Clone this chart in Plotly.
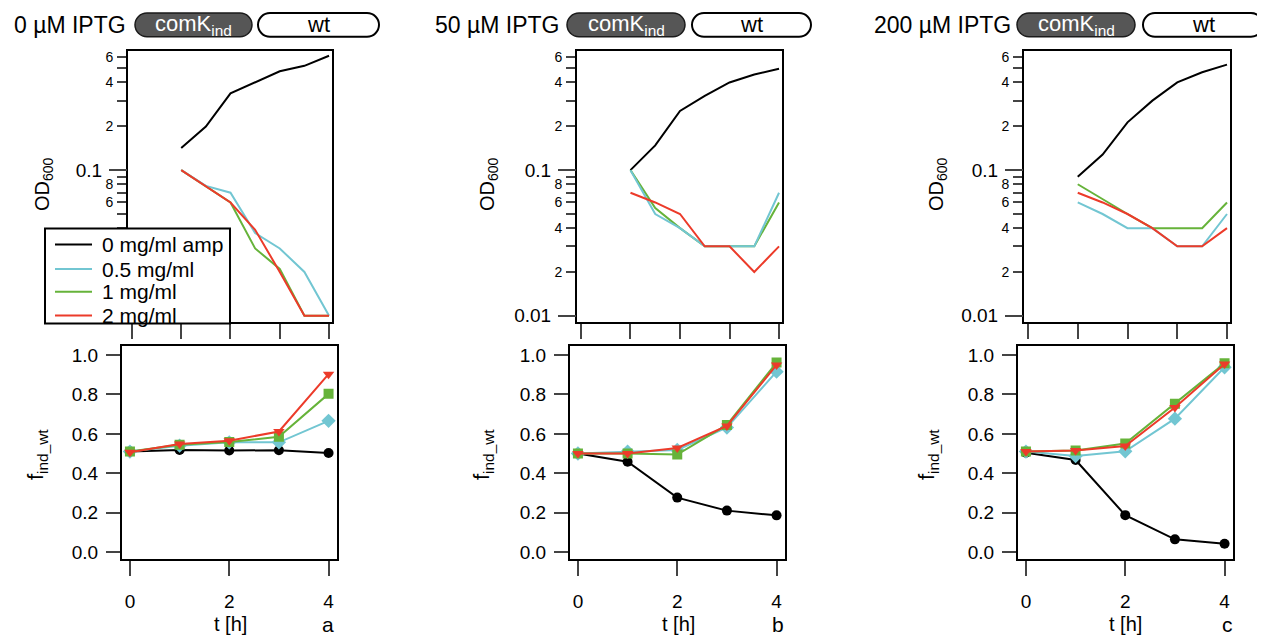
import plotly.graph_objects as go

# the page adds an 8px body margin, so the figure is 8px smaller than the window
OFF = 8
W, H = 1265 - OFF, 640 - OFF

# time points
t_od = [1, 1.5, 2, 2.5, 3, 3.5, 4]
t_f = [0, 1, 2, 3, 4]

# OD600, 0 uM IPTG
od0_amp0 = [0.142, 0.199, 0.337, 0.40, 0.477, 0.52, 0.61]
od0_amp05 = [0.1, 0.078, 0.07, 0.037, 0.029, 0.02, 0.01]
od0_amp1 = [0.1, 0.078, 0.06, 0.029, 0.021, 0.01, 0.01]
od0_amp2 = [0.1, 0.077, 0.06, 0.039, 0.02, 0.01, 0.01]
# OD600, 50 uM IPTG
od50_amp0 = [0.1, 0.148, 0.255, 0.323, 0.40, 0.453, 0.497]
od50_amp05 = [0.1, 0.05, 0.04, 0.03, 0.03, 0.03, 0.07]
od50_amp1 = [0.1, 0.055, 0.04, 0.03, 0.03, 0.03, 0.06]
od50_amp2 = [0.07, 0.06, 0.05, 0.03, 0.03, 0.02, 0.03]
# OD600, 200 uM IPTG
od200_amp0 = [0.09, 0.128, 0.213, 0.30, 0.40, 0.47, 0.53]
od200_amp05 = [0.06, 0.05, 0.04, 0.04, 0.03, 0.03, 0.05]
od200_amp1 = [0.08, 0.063, 0.05, 0.04, 0.04, 0.04, 0.06]
od200_amp2 = [0.07, 0.06, 0.05, 0.04, 0.03, 0.03, 0.04]

# f_ind_wt
f0_amp0 = [0.51, 0.518, 0.515, 0.517, 0.503]
f0_amp05 = [0.51, 0.54, 0.557, 0.557, 0.666]
f0_amp1 = [0.51, 0.545, 0.558, 0.585, 0.803]
f0_amp2 = [0.507, 0.548, 0.565, 0.612, 0.903]
f50_amp0 = [0.50, 0.458, 0.276, 0.21, 0.186]
f50_amp05 = [0.50, 0.51, 0.518, 0.632, 0.916]
f50_amp1 = [0.50, 0.50, 0.495, 0.645, 0.962]
f50_amp2 = [0.50, 0.50, 0.528, 0.64, 0.95]
f200_amp0 = [0.504, 0.467, 0.187, 0.064, 0.042]
f200_amp05 = [0.51, 0.487, 0.511, 0.677, 0.938]
f200_amp1 = [0.51, 0.515, 0.551, 0.753, 0.958]
f200_amp2 = [0.51, 0.515, 0.538, 0.734, 0.955]

series_names = ["0 mg/ml amp", "0.5 mg/ml", "1 mg/ml", "2 mg/ml"]
iptg_labels = ["0 µM IPTG", "50 µM IPTG", "200 µM IPTG"]
panel_letters = ["a", "b", "c"]

od_ticks = [0.01, 0.02, 0.03, 0.04, 0.05, 0.06, 0.07, 0.08, 0.09,
            0.1, 0.2, 0.3, 0.4, 0.5, 0.6]
od_ticktext = ["", "2", "", "4", "", "6", "", "8", "",
               "", "2", "", "4", "", "6"]
# in the first panel the legend box hides the low labels
od_ticktext_a = ["", "", "", "", "", "6", "", "8", "",
                 "", "2", "", "4", "", "6"]

colors = ["#000000", "#72C6D2", "#66B33A", "#EC3B2A"]
symbols = ["circle", "diamond", "square", "triangle-down"]
draw_order = [0, 2, 1, 3]

od_sets = [[od0_amp0, od0_amp05, od0_amp1, od0_amp2],
           [od50_amp0, od50_amp05, od50_amp1, od50_amp2],
           [od200_amp0, od200_amp05, od200_amp1, od200_amp2]]
f_sets = [[f0_amp0, f0_amp05, f0_amp1, f0_amp2],
          [f50_amp0, f50_amp05, f50_amp1, f50_amp2],
          [f200_amp0, f200_amp05, f200_amp1, f200_amp2]]

FONT = "Arial, Liberation Sans, sans-serif"


# window pixel -> paper coordinate
def px(x):
    return (x - OFF) / W


def py(y):
    return 1 - (y - OFF) / H


# frame boxes in window pixels
top_x = [(128, 332), (577, 782), (1024, 1230)]
bot_x = [(122, 337), (570, 785), (1018, 1233)]
top_y = (49, 323)
bot_y = (348, 563)

fig = go.Figure()
layout = dict(width=W, height=H, margin=dict(l=0, r=0, t=0, b=0),
              paper_bgcolor="white", plot_bgcolor="white",
              font=dict(family=FONT, color="black"),
              showlegend=False)

for p in range(3):
    xt, yt = 2 * p + 1, 2 * p + 1
    xb, yb = 2 * p + 2, 2 * p + 2
    # OD traces (top)
    for k in draw_order:
        fig.add_trace(go.Scatter(
            x=t_od, y=od_sets[p][k], mode="lines", name=series_names[k],
            line=dict(color=colors[k], width=2),
            xaxis="x%d" % xt, yaxis="y%d" % yt))
    # f_ind_wt traces (bottom)
    for k in [0, 1, 2, 3]:
        fig.add_trace(go.Scatter(
            x=t_f, y=f_sets[p][k], mode="lines+markers", name=series_names[k],
            line=dict(color=colors[k], width=2),
            marker=dict(symbol=symbols[k], size=10 if k != 1 else 11,
                        color=colors[k]),
            xaxis="x%d" % xb, yaxis="y%d" % yb))

    layout["xaxis%d" % xt] = dict(
        domain=[px(top_x[p][0]), px(top_x[p][1])], anchor="y%d" % yt,
        range=[-0.08, 4.06], tickvals=[0, 1, 2, 3, 4], showticklabels=False,
        ticks="outside", ticklen=15, tickwidth=2, showline=True, linewidth=2,
        linecolor="black", mirror=True, showgrid=False, zeroline=False)
    layout["yaxis%d" % yt] = dict(
        domain=[py(top_y[1]), py(top_y[0])], anchor="x%d" % xt, type="log",
        range=[-2.039, -0.179], tickvals=od_ticks,
        ticktext=od_ticktext_a if p == 0 else od_ticktext,
        ticks="outside", ticklen=9, tickwidth=2, tickfont=dict(size=14),
        ticklabelstandoff=1,
        showline=True, linewidth=2, linecolor="black", mirror=True,
        showgrid=False, zeroline=False)
    # decade ticks with longer marks
    layout["yaxis%d" % (7 + p)] = dict(
        overlaying="y%d" % yt, anchor="x%d" % xt, side="left", type="log",
        range=[-2.039, -0.179], tickvals=[0.1] if p == 0 else [0.01, 0.1],
        ticktext=["0.1"] if p == 0 else ["0.01", "0.1"],
        ticks="outside", ticklen=18, tickwidth=2, tickfont=dict(size=19),
        ticklabelstandoff=3,
        showline=False, showgrid=False, zeroline=False)
    fig.add_trace(go.Scatter(x=[None], y=[None], hoverinfo="skip",
                             xaxis="x%d" % xt, yaxis="y%d" % (7 + p)))

    layout["xaxis%d" % xb] = dict(
        domain=[px(bot_x[p][0]), px(bot_x[p][1])], anchor="y%d" % yb,
        range=[-0.16, 4.17], tickvals=[0, 2, 4], ticks="outside", ticklen=15,
        tickwidth=2, tickfont=dict(size=19), ticklabelstandoff=9,
        showline=True, linewidth=2,
        linecolor="black", mirror=True, showgrid=False, zeroline=False)
    layout["yaxis%d" % yb] = dict(
        domain=[py(bot_y[1]), py(bot_y[0])], anchor="x%d" % xb,
        range=[-0.035, 1.045], tickvals=[0, 0.2, 0.4, 0.6, 0.8, 1.0],
        tickformat=".1f", ticks="outside", ticklen=14, tickwidth=2,
        tickfont=dict(size=19), ticklabelstandoff=4,
        showline=True, linewidth=2, linecolor="black",
        mirror=True, showgrid=False, zeroline=False)

fig.update_layout(**layout)

od_title_x = [43, 488, 937]
f_title_x = [37, 483, 928]
th_x = [230, 678, 1125]
letter_x = [328, 778, 1227]
header_x = [12, 433, 872]
dark_pill = [(135, 252), (567, 685), (1017, 1135)]
white_pill = [(258, 379), (692, 811), (1143, 1263)]


def pill_path(x0, x1, y0, y1):
    r = (y1 - y0) / 2.0
    k = 0.5523 * r
    yc = (y0 + y1) / 2.0
    pts = [("M", [(x0 + r, y0)]),
           ("L", [(x1 - r, y0)]),
           ("C", [(x1 - r + k, y0), (x1, yc - k), (x1, yc)]),
           ("C", [(x1, yc + k), (x1 - r + k, y1), (x1 - r, y1)]),
           ("L", [(x0 + r, y1)]),
           ("C", [(x0 + r - k, y1), (x0, yc + k), (x0, yc)]),
           ("C", [(x0, yc - k), (x0 + r - k, y0), (x0 + r, y0)])]
    s = ""
    for cmd, ps in pts:
        s += cmd + " " + " ".join("%.5f,%.5f" % (px(a), py(b)) for a, b in ps) + " "
    return s + "Z"


def label(x, y, text, size, color="black", xanchor="center", angle=0):
    return dict(x=px(x), y=py(y), xref="paper", yref="paper", text=text,
                xanchor=xanchor, yanchor="middle", textangle=angle,
                showarrow=False, font=dict(size=size, color=color, family=FONT))


shapes = []
annotations = []
for p in range(3):
    annotations.append(label(od_title_x[p], 184, "OD<sub>600</sub>", 20, angle=-90))
    annotations.append(label(f_title_x[p], 458, "f<sub>ind_wt</sub>", 22, angle=-90))
    annotations.append(label(th_x[p], 629, "t [h]", 20))
    annotations.append(label(letter_x[p], 629, panel_letters[p], 21))
    annotations.append(label(header_x[p], 23, iptg_labels[p], 23, xanchor="left"))
    d0, d1 = dark_pill[p]
    w0, w1 = white_pill[p]
    shapes.append(dict(type="path", xref="paper", yref="paper",
                       path=pill_path(d0, d1, 11, 35), fillcolor="#565656",
                       line=dict(color="#1a1a1a", width=1.5)))
    shapes.append(dict(type="path", xref="paper", yref="paper",
                       path=pill_path(w0, w1, 11, 35), fillcolor="white",
                       line=dict(color="black", width=2)))
    annotations.append(label((d0 + d1) / 2, 23, "comK<sub>ind</sub>", 22, color="white"))
    annotations.append(label((w0 + w1) / 2, 23, "wt", 22))

# legend box over the first OD panel
legend_rows = [245, 270, 293, 317]
shapes.append(dict(type="rect", xref="paper", yref="paper", layer="above",
                   x0=px(45), x1=px(230), y0=py(325), y1=py(229),
                   fillcolor="white", line=dict(color="black", width=2)))
for k in range(4):
    shapes.append(dict(type="line", xref="paper", yref="paper", layer="above",
                       x0=px(55), x1=px(92), y0=py(legend_rows[k]), y1=py(legend_rows[k]),
                       line=dict(color=colors[k], width=2)))
    annotations.append(label(100, legend_rows[k], series_names[k], 21, xanchor="left"))

fig.update_layout(shapes=shapes, annotations=annotations)

fig.write_html("out.html")
